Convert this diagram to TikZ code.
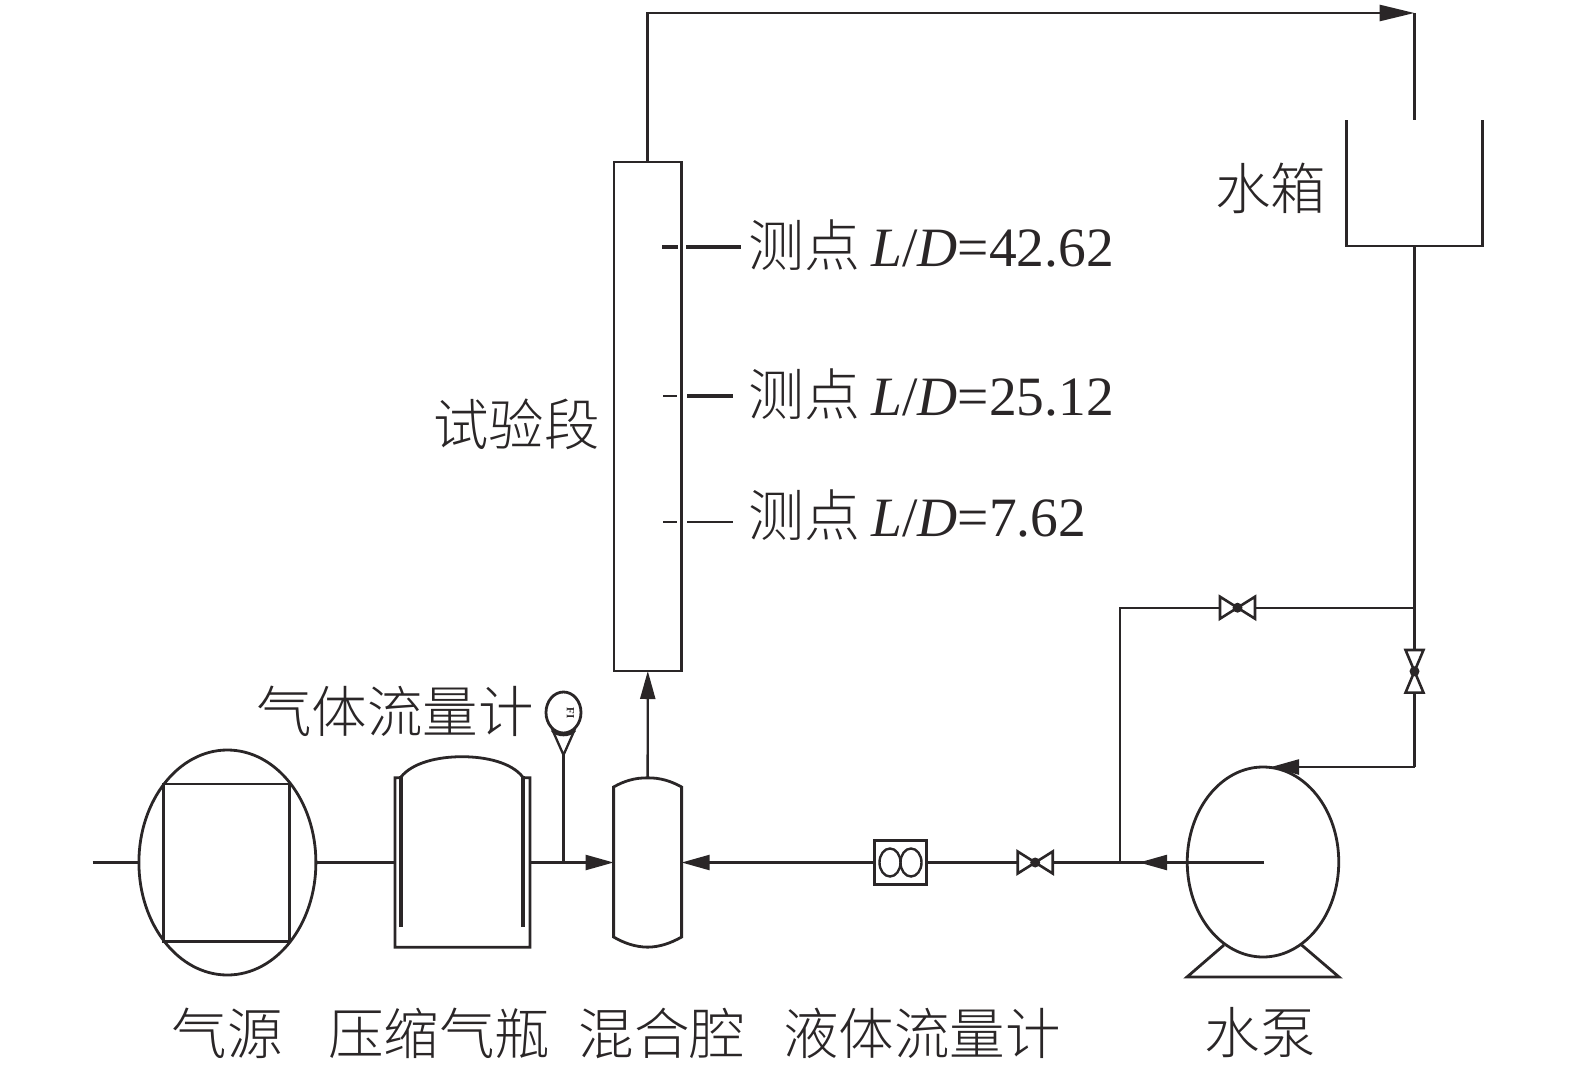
\documentclass[tikz,border=0pt]{standalone}
\usepackage{fontspec}
\setmainfont{Liberation Serif}
\newfontfamily\cjk{Noto Sans CJK SC Light}
\usetikzlibrary{arrows.meta,shapes.geometric,calc}
\definecolor{ink}{HTML}{2A2627}
\tikzset{
  pipe/.style={line width=2.3pt,draw=ink},
  flow/.style={pipe,-{Triangle[length=28pt,width=15pt]}},
  longflow/.style={pipe,line width=2.8pt,-{Triangle[length=35pt,width=16pt]}},
  wall/.style={line width=2.8pt,draw=ink},
  heavy/.style={line width=3.6pt,draw=ink},
  anchorbox/.style={rectangle,inner sep=0pt,outer sep=0pt,draw=none},
  drawnbox/.style={wall,rectangle,inner sep=0pt,outer sep=0pt},
  oval/.style={wall,ellipse,inner sep=0pt,outer sep=0pt},
  lab/.style={inner sep=0pt,outer sep=0pt,font=\cjk\fontsize{55.5}{55.5}\selectfont,text=ink},
  meas/.style={inner sep=0pt,outer sep=0pt,anchor=base west,font=\fontsize{55.5}{55.5}\selectfont,text=ink},
  valvebox/.style={anchorbox},
  valveline/.style={line width=2.6pt,draw=ink,line join=miter},
  vdot/.style={circle,fill=ink,inner sep=0pt,minimum size=10pt},
}
\newcommand{\meastext}[1]{{\cjk\fontsize{56}{56}\selectfont 测点}\hspace{11pt}\textit{L}/\textit{D}=#1}
\begin{document}
\begin{tikzpicture}[x=1pt,y=-1pt]
\useasboundingbox (0,0) rectangle (1575,1073);

% --- equipment nodes
\node[oval,minimum width=177pt,minimum height=225pt] (source) at (227.4,862.5) {};
\node[drawnbox,minimum width=125.7pt,minimum height=157.7pt] (sourcebox) at (226.6,862.8) {};
\node[anchorbox,minimum width=135pt,minimum height=169.3pt] (bottle) at (462.5,862.5) {};
\node[anchorbox,minimum width=68pt,minimum height=169.3pt] (mixer) at (647.6,862.5) {};
\node[drawnbox,minimum width=67.7pt,minimum height=509pt] (test) at (647.8,416.5) {};
\node[oval,minimum width=35pt,minimum height=41pt] (gauge) at (563.5,712.5) {};
\node[drawnbox,minimum width=51.5pt,minimum height=43.3pt,line width=3pt] (meter) at (900.7,862.5) {};
\node[oval,line width=2.4pt,minimum width=21pt,minimum height=28pt] (meterL) at (890,862.5) {};
\node[oval,line width=2.4pt,minimum width=21pt,minimum height=28pt] (meterR) at (911,862.5) {};
\node[oval,minimum width=151.5pt,minimum height=190pt] (pump) at (1263,862) {};
\node[anchorbox,minimum width=136pt,minimum height=126pt] (tank) at (1414.5,183) {};
\node[valvebox,minimum width=35pt,minimum height=22pt] (vlow) at (1035.2,862.5) {};
\node[valvebox,minimum width=35pt,minimum height=22pt] (vtop) at (1237.5,607.7) {};
\node[valvebox,minimum width=18pt,minimum height=42.7pt] (vright) at (1414.5,671.3) {};

% --- junctions and bends
\coordinate (inlet) at (92.6,862.5);
\coordinate (gastap) at (563.5,862.5);
\coordinate (gaugefoot) at (563.5,755);
\coordinate (topleft) at (647.8,13);
\coordinate (topright) at (1414.5,13);
\coordinate (branch) at (1120,862.5);
\coordinate (branchtop) at (1120,607.7);
\coordinate (rightjoin) at (1414.5,607.7);
\coordinate (pumpin) at (1414.5,767);
\coordinate (pumptop) at (1271,767);
\coordinate (pumpcentre) at (1264,862.5);
\coordinate (outtip) at (1139,862.5);

% --- tank
\draw[wall] (tank.north west) -- (tank.south west) -- (tank.south east) -- (tank.north east);

% --- bottle
\draw[wall] (401,777.7) -- (bottle.north west) -- (bottle.south west) -- (bottle.south east) -- (bottle.north east) -- (522.7,777.7);
\draw[heavy] (401,927) -- (401,776);
\draw[heavy] (522.7,927) -- (522.7,776);
\draw[wall] (401,777) .. controls (412,763) and (437,756.7) .. (462,756.7) .. controls (487,756.7) and (512,763) .. (522.7,777);

% --- mixer
\draw[wall] (613.6,787) .. controls (624,781) and (635,777.7) .. (mixer.north)
  .. controls (660,777.7) and (671,781) .. (681.6,787) -- (681.6,937)
  .. controls (671,943) and (660,947) .. (mixer.south) .. controls (635,947) and (624,943) .. (613.6,937) -- cycle;

% --- gauge
\draw[pipe] (552,729) -- (gaugefoot) -- (575,729);
\draw[heavy] (552.5,730) .. controls (557,736) and (570,736) .. (574.5,730);
\draw[heavy] (gastap) -- (gaugefoot);
\node[inner sep=0pt,rotate=-90,font=\bfseries\fontsize{11}{11}\selectfont,text=ink] (gaugetag) at (570.5,713) {FI};

% --- pump feet
\draw[wall] (1224,945) -- (1187,977) -- (1339,977) -- (1301.6,945);

% --- connectors
\draw[pipe] (inlet) -- (source.west);
\draw[pipe] (source.east) -- (bottle.west);
\draw[flow] (bottle.east) -- (mixer.west);
\draw[flow] (mixer.north) -- (test.south);
\draw[longflow] (test.north) -- (topleft) -- (topright);
\draw[pipe] (topright) -- (tank.north);
\draw[pipe] (tank.south) -- (rightjoin) -- (vright.north);
\draw[pipe] (vright.south) -- (pumpin);
\draw[flow] (pumpin) -- (pumptop);
\draw[pipe] (pumptop) -- (pump.north);
\draw[pipe] (rightjoin) -- (vtop.east);
\draw[pipe] (vtop.west) -- (branchtop) -- (branch);
\draw[pipe] (pumpcentre) -- (vlow.east);
\draw[flow] (pumpcentre) -- (outtip);
\draw[pipe] (vlow.west) -- (meter.east);
\draw[flow] (meter.west) -- (mixer.east);

% --- valves
\draw[valveline] (vlow.north west) -- (vlow.south east) -- (vlow.north east) -- (vlow.south west) -- cycle;
\node[vdot] (vlowdot) at (vlow.center) {};
\draw[valveline] (vtop.north west) -- (vtop.south east) -- (vtop.north east) -- (vtop.south west) -- cycle;
\node[vdot] (vtopdot) at (vtop.center) {};
\draw[valveline] (vright.north west) -- (vright.south east) -- (vright.south west) -- (vright.north east) -- cycle;
\node[vdot] (vrightdot) at (vright.center) {};

% --- measuring points
\node[meas] (m1) at (748.5,266) {\meastext{42.62}};
\node[meas] (m2) at (748.5,415) {\meastext{25.12}};
\node[meas] (m3) at (748.5,536) {\meastext{7.62}};
\coordinate (t1a) at (662,247);   \coordinate (t1b) at (678,247);
\coordinate (t1c) at (686,247);   \coordinate (t1d) at (741,247);
\coordinate (t2a) at (663,396);   \coordinate (t2b) at (677,396);
\coordinate (t2c) at (687,396);   \coordinate (t2d) at (733,396);
\coordinate (t3a) at (663,522.3); \coordinate (t3b) at (677,522.3);
\coordinate (t3c) at (687,522.3); \coordinate (t3d) at (733,522.3);
\draw[heavy] (t1a) -- (t1b);
\draw[heavy] (t1c) -- (t1d);
\draw[pipe] (t2a) -- (t2b);
\draw[heavy] (t2c) -- (t2d);
\draw[pipe] (t3a) -- (t3b);
\draw[pipe] (t3c) -- (t3d);

% --- labels
\node[lab] (lgasmeter) at (395,711) {气体流量计};
\node[lab] (ltest) at (516.5,424) {试验段};
\node[lab] (ltank) at (1270.5,188) {水箱};
\node[lab] (lsource) at (227,1033) {气源};
\node[lab] (lbottle) at (439,1033) {压缩气瓶};
\node[lab] (lmixer) at (662,1033) {混合腔};
\node[lab] (lliquid) at (922,1033) {液体流量计};
\node[lab] (lpump) at (1260,1033) {水泵};
\end{tikzpicture}
\end{document}
